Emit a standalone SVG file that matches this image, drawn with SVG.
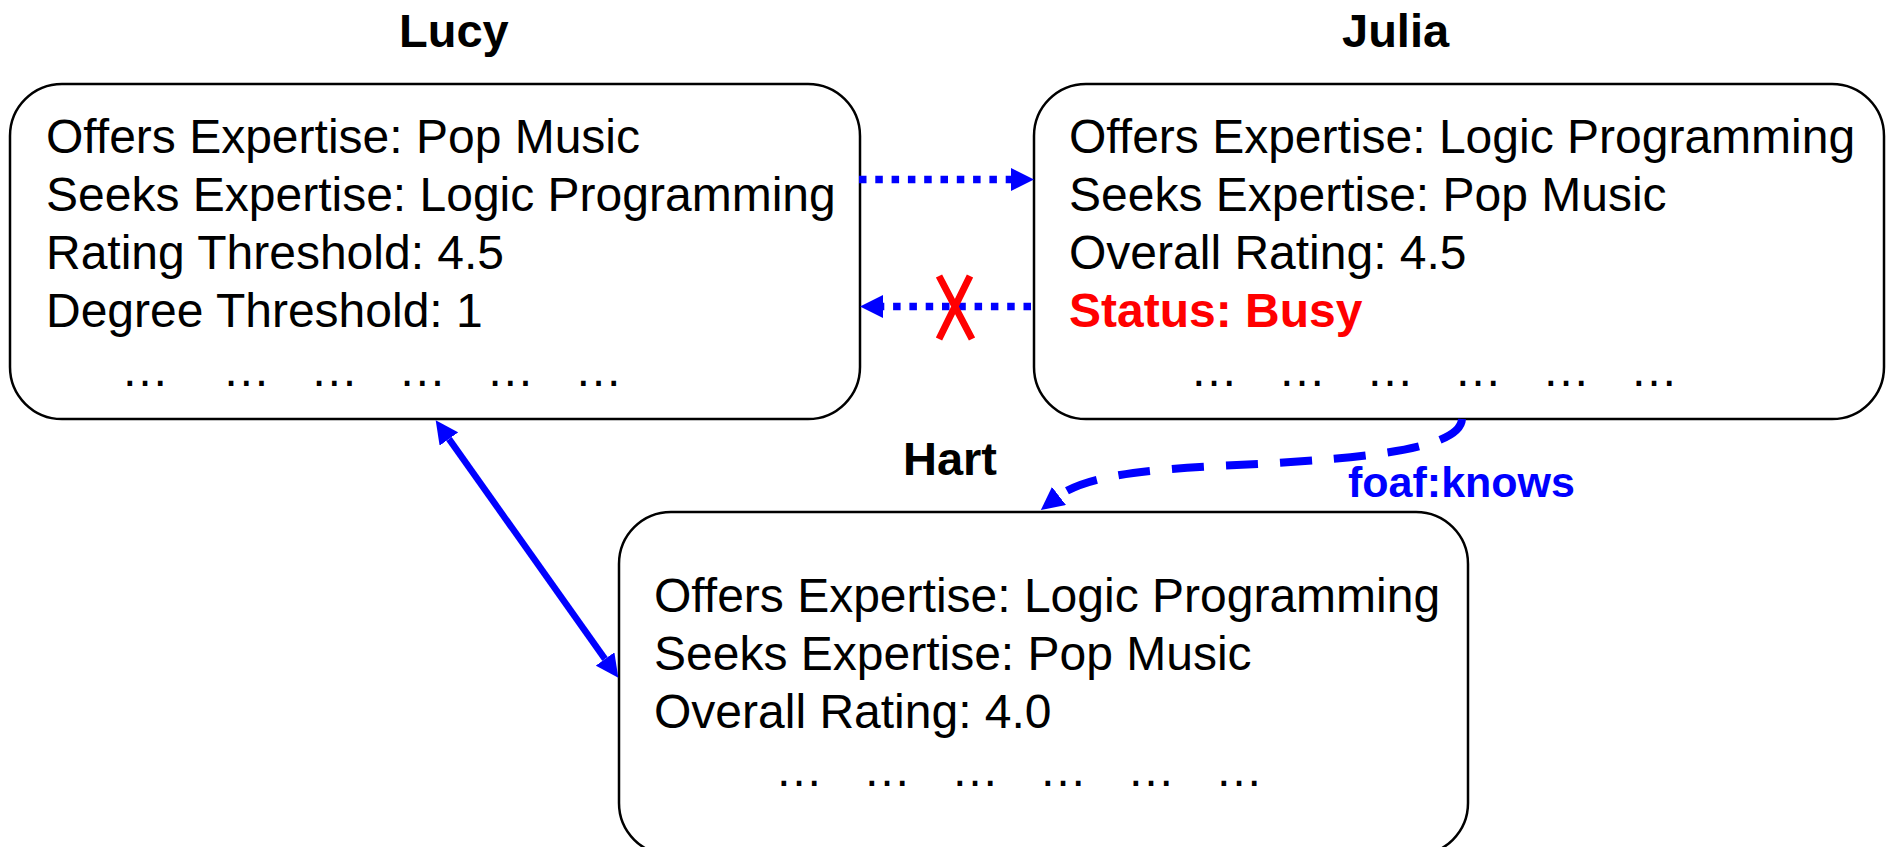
<svg xmlns="http://www.w3.org/2000/svg" width="1890" height="847" viewBox="0 0 1890 847">
  <style>
    .box { fill: #ffffff; stroke: #000000; stroke-width: 2.5; }
    .title { font-family: "Liberation Sans", Arial, sans-serif; font-size: 47px; font-weight: bold; fill: #000000; }
    .body { font-family: "Liberation Sans", Arial, sans-serif; font-size: 48px; fill: #000000; }
    .busy { font-weight: bold; fill: #ff0000; }
    .link { fill: none; stroke: #0000ff; }
    .dotted { stroke-width: 7.5; stroke-dasharray: 7.5 8.8; }
    .dashed { stroke-width: 8; stroke-dasharray: 32 22; }
    .solid { stroke-width: 6.5; }
    .cross { stroke: #ff0000; stroke-width: 7; fill: none; }
    .label { font-family: "Liberation Sans", Arial, sans-serif; font-size: 43px; font-weight: bold; fill: #0000ff; }
  </style>
  <defs>
    <marker id="head" markerUnits="userSpaceOnUse" viewBox="0 0 23 23" markerWidth="23" markerHeight="23" refX="0" refY="11.5" orient="auto-start-reverse">
      <path d="M0,0 L23,11.5 L0,23 z" fill="#0000ff"/>
    </marker>
  </defs>

  <rect width="1890" height="847" fill="#ffffff"/>

  <g id="lucy">
    <text class="title" x="399" y="47">Lucy</text>
    <rect class="box" x="10" y="84" width="850" height="335" rx="52" ry="52"/>
    <text class="body" x="46" y="153">Offers Expertise: Pop Music</text>
    <text class="body" x="46" y="211">Seeks Expertise: Logic Programming</text>
    <text class="body" x="46" y="269">Rating Threshold: 4.5</text>
    <text class="body" x="46" y="327">Degree Threshold: 1</text>
    <text class="body" x="121" y="386" xml:space="preserve">…    …   …   …   …   …</text>
  </g>

  <g id="julia">
    <text class="title" x="1342" y="47">Julia</text>
    <rect class="box" x="1034" y="84" width="850" height="335" rx="52" ry="52"/>
    <text class="body" x="1069" y="153">Offers Expertise: Logic Programming</text>
    <text class="body" x="1069" y="211">Seeks Expertise: Pop Music</text>
    <text class="body" x="1069" y="269">Overall Rating: 4.5</text>
    <text class="body busy" x="1069" y="327">Status: Busy</text>
    <text class="body" x="1190" y="386" xml:space="preserve">…   …   …   …   …   …</text>
  </g>

  <g id="hart">
    <text class="title" x="903" y="475">Hart</text>
    <rect class="box" x="619" y="512" width="849" height="343" rx="52" ry="52"/>
    <text class="body" x="654" y="612">Offers Expertise: Logic Programming</text>
    <text class="body" x="654" y="670">Seeks Expertise: Pop Music</text>
    <text class="body" x="654" y="728">Overall Rating: 4.0</text>
    <text class="body" x="775" y="786" xml:space="preserve">…   …   …   …   …   …</text>
  </g>

  <g id="connectors">
    <!-- Lucy to Julia request -->
    <line class="link dotted" x1="859" y1="179.5" x2="1011" y2="179.5" marker-end="url(#head)"/>
    <!-- Julia to Lucy reply, refused -->
    <line class="link dotted" x1="1031" y1="306.5" x2="883" y2="306.5" marker-end="url(#head)"/>
    <path class="cross" d="M939,276 L972,339 M970,276 L939,339"/>
    <!-- Lucy and Hart exchange -->
    <line class="link solid" x1="449" y1="439" x2="605" y2="659" marker-start="url(#head)" marker-end="url(#head)"/>
    <!-- foaf:knows from Julia to Hart -->
    <path class="link dashed" d="M1462,419 C1460,450 1360,458 1260,464 C1170,468 1090,472 1059,496" marker-end="url(#head)"/>
    <text class="label" x="1348" y="497">foaf:knows</text>
  </g>
</svg>
